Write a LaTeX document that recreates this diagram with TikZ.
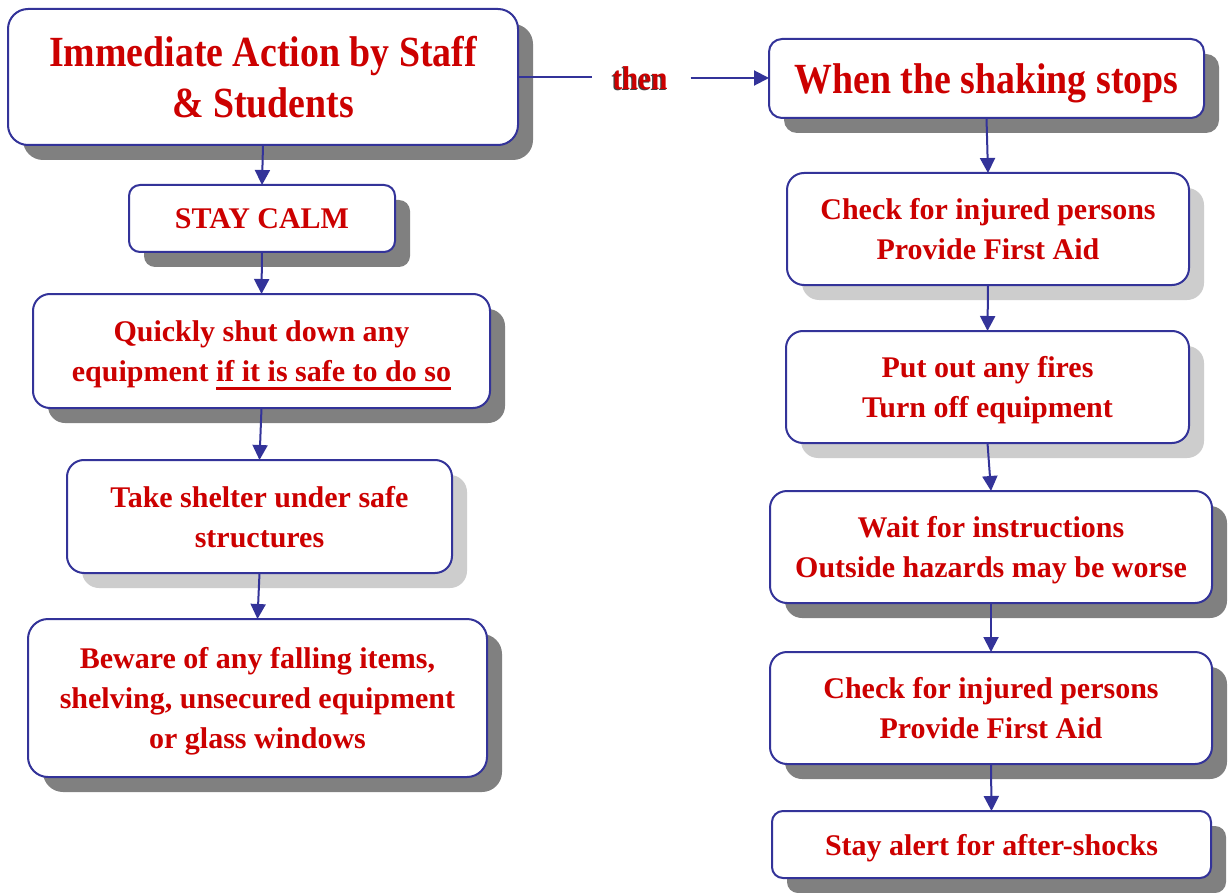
\documentclass[tikz,border=0pt]{standalone}
\usepackage{fontspec}
\setmainfont{Liberation Serif}
\newfontfamily\titlefont{Liberation Serif}[FakeStretch=0.88]
\usetikzlibrary{shadows,arrows.meta}
\definecolor{txtred}{RGB}{204,0,0}
\definecolor{navy}{RGB}{51,51,153}
\definecolor{shdark}{RGB}{128,128,128}
\definecolor{shlight}{RGB}{205,205,205}
\newcommand\myul[1]{\setbox0=\hbox{#1}\rlap{\smash{\rule[-9pt]{\wd0}{3pt}}}\box0}
\begin{document}
\begin{tikzpicture}[x=1pt,y=-1pt,
  flowbox/.style={draw=navy, line width=2pt, fill=white, rounded corners=#1,
    inner sep=0pt, outer sep=0pt, align=center, text=txtred, text depth=0pt,
    font=\bfseries\fontsize{30}{40}\selectfont},
  flowbox/.default=17pt,
  dshadow/.style={drop shadow={shadow xshift=15pt, shadow yshift=-15pt, fill=shdark, opacity=1}},
  lshadow/.style={drop shadow={shadow xshift=15pt, shadow yshift=-15pt, fill=shlight, opacity=1}},
  titletext/.style={font=\titlefont\bfseries\fontsize{43}{51}\selectfont},
  conn/.style={draw=navy, line width=2pt},
  arr/.style={conn, -{Triangle[length=15pt,width=15pt]}},
]
\useasboundingbox[fill=white] (0,0) rectangle (1228,893);

% left column
\node[flowbox=20pt, dshadow, titletext, minimum width=510pt, minimum height=136pt]
  (title) at (263,77) {Immediate Action by Staff\\\& Students};
\node[flowbox=11pt, dshadow, minimum width=266pt, minimum height=67pt]
  (calm) at (262,218.5) {STAY CALM};
\node[flowbox, dshadow, minimum width=457pt, minimum height=114pt]
  (shut) at (261.5,351) {Quickly shut down any\\equipment \myul{if it is safe to do so}};
\node[flowbox, lshadow, minimum width=385pt, minimum height=113pt]
  (shelter) at (259.5,516.5) {Take shelter under safe\\structures};
\node[flowbox=20pt, dshadow, minimum width=459pt, minimum height=158pt]
  (beware) at (257.5,698) {Beware of any falling items,\\shelving, unsecured equipment\\or glass windows};

% right column
\node[flowbox=13pt, dshadow, titletext, minimum width=435pt, minimum height=79pt]
  (stops) at (986.5,78.5) {When the shaking stops};
\node[flowbox, lshadow, minimum width=402pt, minimum height=112pt]
  (check1) at (988,229) {Check for injured persons\\Provide First Aid};
\node[flowbox, lshadow, minimum width=403pt, minimum height=112pt]
  (fires) at (987.5,387) {Put out any fires\\Turn off equipment};
\node[flowbox, dshadow, minimum width=442pt, minimum height=112pt]
  (wait) at (991,547) {Wait for instructions\\Outside hazards may be worse};
\node[flowbox, dshadow, minimum width=442pt, minimum height=112pt]
  (check2) at (991,708) {Check for injured persons\\Provide First Aid};
\node[flowbox=11pt, dshadow, minimum width=439pt, minimum height=67pt]
  (alert) at (991.5,844.5) {Stay alert for after-shocks};

% "then" label
\node[font=\titlefont\bfseries\fontsize{33}{36}\selectfont, text=black!75,
  inner xsep=20pt, inner ysep=2pt] (thenshadow) at (638.8,79.2) {then};
\node[font=\titlefont\bfseries\fontsize{33}{36}\selectfont, text=txtred,
  inner xsep=20pt, inner ysep=2pt] (then) at (640,78) {then};

% connectors
\draw[conn] (title.east) -- (title.east -| then.west);
\draw[arr] ([xshift=3pt]then.east) -- (then.east -| stops.west);
\draw[arr] (title.south) -- (calm.north);
\draw[arr] (calm.south) -- (shut.north);
\draw[arr] (shut.south) -- (shelter.north);
\draw[arr] (shelter.south) -- (beware.north);
\draw[arr] (stops.south) -- (check1.north);
\draw[arr] (check1.south) -- (fires.north);
\draw[arr] (fires.south) -- (wait.north);
\draw[arr] (wait.south) -- (check2.north);
\draw[arr] (check2.south) -- (alert.north);
\end{tikzpicture}
\end{document}
